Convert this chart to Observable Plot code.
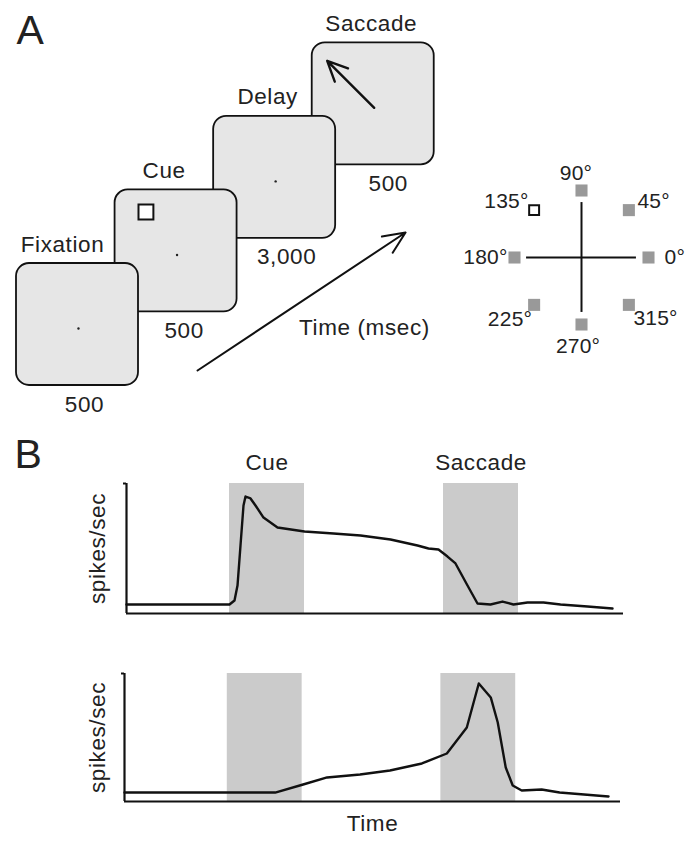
<!DOCTYPE html>
<html>
<head>
<meta charset="utf-8">
<script src="https://cdn.jsdelivr.net/npm/d3@7"></script>
<script src="https://cdn.jsdelivr.net/npm/@observablehq/plot@0.6"></script>
<style>
  html, body { margin: 0; padding: 0; background: #fff; }
  #fig { position: relative; width: 694px; height: 845px; overflow: hidden; background: #fff; }
  #fig > svg { position: absolute; max-width: none; }
</style>
</head>
<body>
<div id="fig"></div>
<script>
// ---------------- DATA ----------------
// Panel A: task epochs and their durations (msec)
const stages = ["Fixation", "Cue", "Delay", "Saccade"];
const durations = ["500", "500", "3,000", "500"];
const timeAxisLabel = "Time (msec)";

// Target layout (degrees), cued target
const targetAngles = [0, 45, 90, 135, 180, 225, 270, 315];
const cuedAngle = 135;

// Panel B: shaded epochs (arbitrary time units)
const epochs = ["Cue", "Saccade"];
const epochStart = [103, 317];
const epochEnd = [178, 392];

// Panel B top: cue/delay-tuned neuron (time a.u., spikes/sec a.u.)
const timeTop = [0, 103, 108, 111, 114, 117, 119, 124, 129, 137, 151, 178, 207, 234, 264, 291, 302, 312, 321, 329, 341, 351, 364, 376, 387, 401, 417, 434, 461, 486];
const rateTop = [6.9, 6.9, 10.0, 21.5, 52.3, 83.1, 90.0, 88.5, 83.1, 73.8, 66.2, 63.1, 61.5, 60.0, 56.9, 52.3, 50.0, 49.2, 43.8, 38.5, 21.5, 7.7, 6.9, 9.2, 6.9, 8.5, 8.5, 6.9, 5.4, 3.8];

// Panel B bottom: saccade-related neuron
const timeBottom = [0, 151, 179, 203, 236, 266, 298, 323, 343, 355, 367, 374, 382, 389, 398, 418, 436, 485];
const rateBottom = [7.0, 7.0, 13.3, 18.8, 21.1, 24.2, 29.7, 37.5, 57.8, 92.2, 81.3, 61.7, 26.6, 12.5, 8.6, 9.4, 7.0, 3.9];

const yLabel = "spikes/sec";
const xLabel = "Time";

// ---------------- LAYOUT / STYLE ----------------
const INK = "#222";
const LINE = "#111";
const FONT = "'Liberation Sans', Arial, Helvetica, sans-serif";
const baseStyle = `font-family:${FONT};font-size:22.5px;letter-spacing:0.6px;color:${INK};background:none;overflow:visible;`;

const fig = document.getElementById("fig");
function place(svg, left, top) {
  svg.style.left = left + "px";
  svg.style.top = top + "px";
  fig.appendChild(svg);
}

// ---------------- PANEL A: task sequence ----------------
{
  const BOX = 122;              // px per box unit
  const STEP_X = 0.808, STEP_Y = 0.603;
  const nameShift = [-15, -12, -7, -2];   // px
  const durShift = [7, 8, 12, 15];        // px
  const idx = d3.range(stages.length);
  const bx = i => STEP_X * i;             // box left (box units)
  const by = i => STEP_Y * i;             // box bottom (box units, y up)
  const dotU = 0.508, dotV = 1 - 0.533;
  const sacLen = 0.545, rad = Math.PI / 180;
  const timeArrow = {u1: 1.484, v1: 0.123, u2: 3.189, v2: 1.254};
  const timeText = {u: 2.852, v: 0.41};

  const svg = Plot.plot({
    width: 450, height: 420, margin: 0,
    style: baseStyle,
    x: {domain: [-16 / BOX, 434 / BOX], axis: null},
    y: {domain: [-35 / BOX, 385 / BOX], axis: null},
    marks: [
      Plot.rect(idx.slice().reverse(), {
        x1: i => bx(i), x2: i => bx(i) + 1,
        y1: i => by(i), y2: i => by(i) + 1,
        rx: 13, ry: 13, fill: "#e6e6e6", stroke: LINE, strokeWidth: 1.8
      }),
      // fixation points
      Plot.dot(idx.slice(0, 3), {x: i => bx(i) + dotU, y: i => by(i) + dotV, r: 1.2, fill: INK}),
      // cue square
      Plot.dot([1], {x: i => bx(i) + 0.253, y: i => by(i) + 1 - 0.181, symbol: "square", r: 8.4, fill: "white", stroke: LINE, strokeWidth: 2}),
      // saccade arrow toward cued location
      Plot.arrow([3], {
        x1: i => bx(i) + dotU, y1: i => by(i) + dotV,
        x2: i => bx(i) + dotU + sacLen * Math.cos(cuedAngle * rad),
        y2: i => by(i) + dotV + sacLen * Math.sin(cuedAngle * rad),
        stroke: LINE, strokeWidth: 2.4, headAngle: 50, headLength: 14
      }),
      // stage names
      Plot.text(idx, {x: i => bx(i) + 0.5 + nameShift[i] / BOX, y: i => by(i) + 1, text: i => stages[i], dy: -12, lineAnchor: "bottom", textAnchor: "middle", fill: INK}),
      // durations
      Plot.text(idx, {x: i => bx(i) + 0.5 + durShift[i] / BOX, y: i => by(i), text: i => durations[i], dy: 26, lineAnchor: "bottom", textAnchor: "middle", fill: INK}),
      // time arrow
      Plot.arrow([timeArrow], {x1: "u1", y1: "v1", x2: "u2", y2: "v2", stroke: LINE, strokeWidth: 2, headAngle: 48, headLength: 18}),
      Plot.text([timeText], {x: "u", y: "v", text: () => timeAxisLabel, lineAnchor: "bottom", textAnchor: "middle", fill: INK}),
      // panel letter
      Plot.text(["A"], {frameAnchor: "top-left", dx: 16, dy: 43, lineAnchor: "bottom", textAnchor: "start", fontSize: 41, fill: INK})
    ]
  });
  place(svg, 0, 0);
}

// ---------------- PANEL A: target configuration ----------------
{
  const S = 67; // px per unit eccentricity
  const ARM = 0.82;
  const rad = Math.PI / 180;
  const tx = a => Math.cos(a * rad), ty = a => Math.sin(a * rad);
  const labelLayout = {
    0:   {anchor: "start",  line: "middle", dx: 16,   dy: 0},
    45:  {anchor: "start",  line: "bottom", dx: 8.6,  dy: -2},
    90:  {anchor: "middle", line: "bottom", dx: -5.5, dy: -11},
    135: {anchor: "end",    line: "bottom", dx: -5.6, dy: -2},
    180: {anchor: "end",    line: "middle", dx: -7,   dy: 0},
    225: {anchor: "end",    line: "bottom", dx: -2,   dy: 21.6},
    270: {anchor: "middle", line: "bottom", dx: -3.5, dy: 28},
    315: {anchor: "start",  line: "bottom", dx: 4.6,  dy: 20.6}
  };
  const labelMarks = targetAngles.map(a => Plot.text([a], {
    x: tx, y: ty, text: d => d + "°",
    textAnchor: labelLayout[a].anchor, lineAnchor: labelLayout[a].line,
    dx: labelLayout[a].dx, dy: labelLayout[a].dy, fontSize: 21, fill: INK
  }));
  const svg = Plot.plot({
    width: 254, height: 230, margin: 0,
    style: baseStyle + "letter-spacing:0.2px;",
    x: {domain: [-141 / S, 113 / S], axis: null},
    y: {domain: [-113 / S, 117 / S], axis: null},
    marks: [
      Plot.ruleY([0], {x1: -ARM, x2: ARM, stroke: LINE, strokeWidth: 2}),
      Plot.ruleX([0], {y1: -ARM, y2: ARM, stroke: LINE, strokeWidth: 2}),
      Plot.dot(targetAngles.filter(a => a !== cuedAngle), {x: tx, y: ty, symbol: "square", r: 6.8, fill: "#999"}),
      Plot.dot([cuedAngle], {x: tx, y: ty, symbol: "square", r: 5.6, fill: "white", stroke: LINE, strokeWidth: 2}),
      ...labelMarks
    ]
  });
  place(svg, 440, 140);
}

// ---------------- PANEL B ----------------
function rasterPanel({times, rates, marginLeft, marginRight, marginTop, marginBottom, height, showEpochLabels, showXLabel, letter}) {
  const eIdx = d3.range(epochs.length);
  const pIdx = d3.range(times.length);
  const marks = [
    Plot.rect(eIdx, {x1: i => epochStart[i], x2: i => epochEnd[i], fill: "#cbcbcb"}),
    Plot.ruleY([0], {stroke: LINE, strokeWidth: 2.2}),
    Plot.ruleX([0], {stroke: LINE, strokeWidth: 2.2}),
    Plot.ruleY([100], {x1: -3, x2: 0, stroke: LINE, strokeWidth: 2}),
    Plot.line(pIdx, {x: i => times[i], y: i => rates[i], stroke: LINE, strokeWidth: 2.4, strokeLinejoin: "round"}),
    Plot.text([yLabel], {frameAnchor: "left", rotate: -90, dx: 97 - marginLeft, textAnchor: "middle", lineAnchor: "middle", fill: INK})
  ];
  if (showEpochLabels) marks.push(Plot.text(eIdx, {x: i => (epochStart[i] + epochEnd[i]) / 2, text: i => epochs[i], frameAnchor: "top", dy: -14, lineAnchor: "bottom", textAnchor: "middle", fill: INK}));
  if (showXLabel) marks.push(Plot.text([xLabel], {frameAnchor: "bottom", dy: 29, lineAnchor: "bottom", textAnchor: "middle", fill: INK}));
  if (letter) marks.push(Plot.text([letter.text], {frameAnchor: "top-left", dx: letter.dx, dy: letter.dy, lineAnchor: "bottom", textAnchor: "start", fontSize: 41, fill: INK}));
  return Plot.plot({
    width: 694, height, marginLeft, marginRight, marginTop, marginBottom,
    style: baseStyle,
    x: {domain: [0, 497], axis: null},
    y: {domain: [0, 100], axis: null},
    marks
  });
}

place(rasterPanel({
  times: timeTop, rates: rateTop,
  marginLeft: 126, marginRight: 71, marginTop: 53, marginBottom: 12, height: 195,
  showEpochLabels: true, showXLabel: false,
  letter: {text: "B", dx: 14 - 126, dy: 37 - 53}
}), 0, 430);

place(rasterPanel({
  times: timeBottom, rates: rateBottom,
  marginLeft: 124, marginRight: 74, marginTop: 43, marginBottom: 44, height: 215,
  showEpochLabels: false, showXLabel: true, letter: null
}), 0, 630);
</script>
</body>
</html>
